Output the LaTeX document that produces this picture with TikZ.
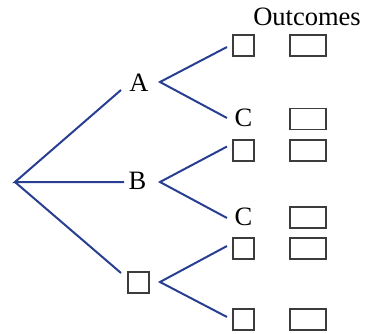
\documentclass[tikz,border=0pt]{standalone}
\usepackage{fontspec}
\setmainfont{Liberation Serif}
\definecolor{branchblue}{RGB}{40,62,145}
\definecolor{boxgray}{RGB}{60,60,60}
\begin{document}
\begin{tikzpicture}[x=1pt,y=-1pt,
  br/.style={draw=branchblue,line width=2pt},
  lbl/.style={inner sep=0pt,anchor=base,font=\fontsize{26.5}{30}\selectfont},
  sq/.style={draw=boxgray,line width=1.1pt,minimum width=21pt,minimum height=21pt,inner sep=0pt},
  wbox/.style={draw=boxgray,line width=1.1pt,minimum width=36pt,minimum height=21pt,inner sep=0pt}]
\useasboundingbox (0,0) rectangle (370,333);
% labels
\node[lbl] (out) at (307,25.5) {Outcomes};
\coordinate (root) at (15,182);
\node[lbl] (A) at (139,91) {A};
\node[lbl] (B) at (137.5,189) {B};
\node[sq] (M3) at (138.5,282.5) {};
% leaves
\node[sq] (L1) at (243.5,45.5) {};
\node[lbl] (C1) at (243.5,126) {C};
\node[sq] (L3) at (243.5,150.5) {};
\node[lbl] (C2) at (243.5,225.5) {C};
\node[sq] (L5) at (243.5,248.5) {};
\node[sq] (L6) at (243.5,319.5) {};
% outcome boxes
\node[wbox] (O1) at (308,45.5) {};
\node[wbox] (O2) at (308,119) {};
\node[wbox] (O3) at (308,150.5) {};
\node[wbox] (O4) at (308,217.5) {};
\node[wbox] (O5) at (308,248.5) {};
\node[wbox] (O6) at (308,319.5) {};
% first level
\draw[br] ([shift={(-18,-1)}]A.base) -- (root) -- ([shift={(-13.5,-7)}]B.base);
\draw[br] (root) -- ([shift={(-17.5,-9.5)}]M3.center);
% second level
\draw[br] ([shift={(-16.5,1.5)}]L1.center) -- ([shift={(21,-9)}]A.base) -- ([shift={(-16.5,-8)}]C1.base);
\draw[br] ([shift={(-16.5,-4)}]L3.center) -- ([shift={(22.5,-7)}]B.base) -- ([shift={(-16.5,-7.5)}]C2.base);
\draw[br] ([shift={(-16.5,-2.5)}]L5.center) -- ([shift={(21.5,-0.5)}]M3.center) -- ([shift={(-16.5,-2.5)}]L6.center);
\end{tikzpicture}
\end{document}
